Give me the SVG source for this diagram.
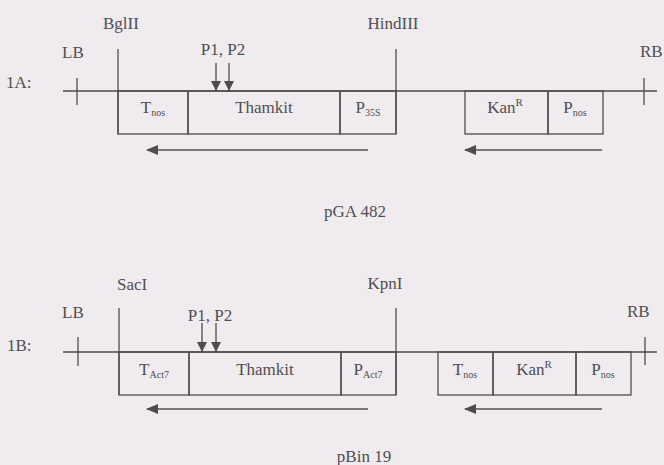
<svg xmlns="http://www.w3.org/2000/svg" width="664" height="465" viewBox="0 0 664 465" font-family="'Liberation Serif', 'DejaVu Serif', serif">
<defs>
<style>
.bg{fill:#efebef}
.ln{stroke:#4d4d4d;stroke-width:1.3;fill:none}
.ar{stroke:#555;stroke-width:1.6;fill:none}
text{font-family:'Liberation Serif', 'DejaVu Serif', serif;font-size:17px;fill:#4f4f4f}
.c{text-anchor:middle}
.sub{font-size:10px}
.sup{font-size:11px}
</style>
<marker id="ah" viewBox="0 0 12 10" refX="11" refY="5" markerWidth="12" markerHeight="10" markerUnits="userSpaceOnUse" orient="auto">
<path d="M0,0 L12,5 L0,10 Z" fill="#4d4d4d"/>
</marker>
<marker id="ahs" viewBox="0 0 10 10" refX="10" refY="5" markerWidth="10" markerHeight="10" markerUnits="userSpaceOnUse" orient="auto">
<path d="M0,0 L10,5 L0,10 Z" fill="#4d4d4d"/>
</marker>
</defs>
<rect class="bg" x="0" y="0" width="664" height="465"/>

<!-- Panel 1A -->
<g id="panelA">
<text x="6" y="88" font-size="18">1A:</text>
<text x="355" y="217" class="c">pGA 482</text>
</g>
<g id="A_backbone">
<line class="ln" x1="63" y1="91" x2="657" y2="91"/>
</g>
<g id="A_LB">
<line class="ln" x1="77" y1="78" x2="77" y2="105"/>
<text x="62" y="58">LB</text>
</g>
<g id="A_RB">
<line class="ln" x1="644" y1="78" x2="644" y2="105"/>
<text x="640" y="57">RB</text>
</g>
<g id="A_BglII">
<line class="ln" x1="118" y1="49" x2="118" y2="134"/>
<text x="103" y="29">BglII</text>
</g>
<g id="A_HindIII">
<line class="ln" x1="396" y1="49" x2="396" y2="134"/>
<text x="393" y="29" class="c">HindIII</text>
</g>
<g id="A_Tnos">
<rect class="ln" x="118" y="91" width="70" height="43"/>
<text x="153" y="113" class="c">T<tspan class="sub" dy="3">nos</tspan></text>
</g>
<g id="A_Thamkit">
<rect class="ln" x="188" y="91" width="152" height="43"/>
<text x="264" y="113" class="c">Thamkit</text>
</g>
<g id="A_P35S">
<rect class="ln" x="340" y="91" width="56" height="43"/>
<text x="368" y="113" class="c">P<tspan class="sub" dy="3">35S</tspan></text>
</g>
<g id="A_KanR">
<rect class="ln" x="465" y="91" width="83" height="43"/>
<text x="505" y="113" class="c">Kan<tspan class="sup" dy="-7">R</tspan></text>
</g>
<g id="A_Pnos">
<rect class="ln" x="548" y="91" width="55" height="43"/>
<text x="575" y="113" class="c">P<tspan class="sub" dy="3">nos</tspan></text>
</g>
<g id="A_P1P2">
<text x="223" y="55" class="c">P1, P2</text>
</g>

<!-- Panel 1B -->
<g id="panelB">
<text x="7" y="351" font-size="18">1B:</text>
<text x="364" y="462" class="c">pBin 19</text>
</g>
<g id="B_backbone">
<line class="ln" x1="63" y1="352" x2="657" y2="352"/>
</g>
<g id="B_LB">
<line class="ln" x1="78" y1="337" x2="78" y2="366"/>
<text x="62" y="318">LB</text>
</g>
<g id="B_RB">
<line class="ln" x1="645" y1="337" x2="645" y2="365"/>
<text x="627" y="317">RB</text>
</g>
<g id="B_SacI">
<line class="ln" x1="119" y1="308" x2="119" y2="395"/>
<text x="117" y="290">SacI</text>
</g>
<g id="B_KpnI">
<line class="ln" x1="396" y1="308" x2="396" y2="395"/>
<text x="385" y="289" class="c">KpnI</text>
</g>
<g id="B_TAct7">
<rect class="ln" x="119" y="352" width="70" height="43"/>
<text x="154" y="375" class="c">T<tspan class="sub" dy="3">Act7</tspan></text>
</g>
<g id="B_Thamkit">
<rect class="ln" x="189" y="352" width="152" height="43"/>
<text x="265" y="375" class="c">Thamkit</text>
</g>
<g id="B_PAct7">
<rect class="ln" x="341" y="352" width="55" height="43"/>
<text x="368" y="375" class="c">P<tspan class="sub" dy="3">Act7</tspan></text>
</g>
<g id="B_Tnos">
<rect class="ln" x="438" y="352" width="55" height="43"/>
<text x="465" y="375" class="c">T<tspan class="sub" dy="3">nos</tspan></text>
</g>
<g id="B_KanR">
<rect class="ln" x="493" y="352" width="83" height="43"/>
<text x="534" y="375" class="c">Kan<tspan class="sup" dy="-7">R</tspan></text>
</g>
<g id="B_Pnos">
<rect class="ln" x="576" y="352" width="55" height="43"/>
<text x="603" y="375" class="c">P<tspan class="sub" dy="3">nos</tspan></text>
</g>
<g id="B_P1P2">
<text x="210" y="321" class="c">P1, P2</text>
</g>

<!-- Connectors -->
<g id="connectors">
<line class="ar" x1="368" y1="150" x2="147" y2="150" marker-end="url(#ah)"/>
<line class="ar" x1="602" y1="150" x2="465" y2="150" marker-end="url(#ah)"/>
<line class="ar" x1="368" y1="409" x2="147" y2="409" marker-end="url(#ah)"/>
<line class="ar" x1="602" y1="409" x2="465" y2="409" marker-end="url(#ah)"/>
<line class="ln" x1="216" y1="63" x2="216" y2="91" marker-end="url(#ahs)"/>
<line class="ln" x1="229" y1="63" x2="229" y2="91" marker-end="url(#ahs)"/>
<line class="ln" x1="202" y1="323" x2="202" y2="352" marker-end="url(#ahs)"/>
<line class="ln" x1="216" y1="323" x2="216" y2="352" marker-end="url(#ahs)"/>
</g>
</svg>
